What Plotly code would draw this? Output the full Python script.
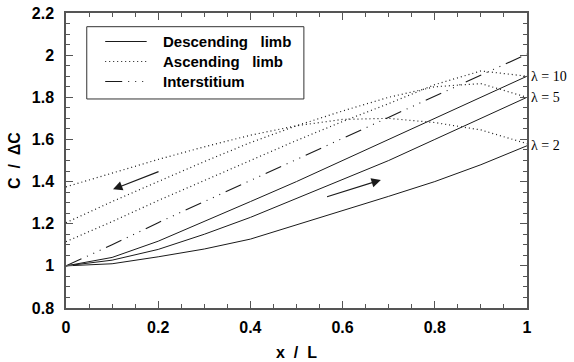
import plotly.graph_objects as go

x_pts = [0, 0.1, 0.2, 0.3, 0.4, 0.5, 0.6, 0.7, 0.8, 0.9, 1.0]

desc_l2 = [1.0, 1.01, 1.043, 1.08, 1.127, 1.195, 1.26, 1.33, 1.40, 1.48, 1.57]
desc_l5 = [1.0, 1.027, 1.078, 1.15, 1.23, 1.32, 1.41, 1.50, 1.60, 1.70, 1.80]
desc_l10 = [1.0, 1.04, 1.117, 1.21, 1.305, 1.40, 1.50, 1.60, 1.70, 1.80, 1.90]

asc_l2 = [1.375, 1.44, 1.505, 1.565, 1.62, 1.665, 1.695, 1.70, 1.68, 1.645, 1.58]
asc_l5 = [1.205, 1.305, 1.40, 1.495, 1.585, 1.665, 1.735, 1.80, 1.85, 1.865, 1.80]
asc_l10 = [1.115, 1.21, 1.31, 1.405, 1.50, 1.595, 1.685, 1.77, 1.86, 1.925, 1.90]

interstitium = [1.0, 1.10, 1.205, 1.305, 1.405, 1.505, 1.605, 1.705, 1.805, 1.905, 2.005]

lambda_labels = ["λ = 10", "λ = 5", "λ = 2"]
lambda_ends = [1.90, 1.80, 1.57]

legend_names = ["Descending   limb", "Ascending   limb", "Interstitium"]

x_ticks = [0, 0.2, 0.4, 0.6, 0.8, 1]
x_ticktext = ["0", "0.2", "0.4", "0.6", "0.8", "1"]
y_ticks = [0.8, 1, 1.2, 1.4, 1.6, 1.8, 2, 2.2]
y_ticktext = ["0.8", "1", "1.2", "1.4", "1.6", "1.8", "2", "2.2"]

LC = "#1a1a1a"
DOT = "1px,3px"
DASHDOT = "17px,6px,1px,6px,1px,6px,1px,6px"
FONT = "Arial, Liberation Sans"

fig = go.Figure()

for ys in [desc_l2, desc_l5, desc_l10]:
    fig.add_trace(go.Scatter(x=x_pts, y=ys, mode="lines",
                             line=dict(color=LC, width=1), showlegend=False))
for ys in [asc_l2, asc_l5, asc_l10]:
    fig.add_trace(go.Scatter(x=x_pts, y=ys, mode="lines",
                             line=dict(color=LC, width=1.2, dash=DOT), showlegend=False))
fig.add_trace(go.Scatter(x=x_pts, y=interstitium, mode="lines",
                         line=dict(color=LC, width=1.1, dash=DASHDOT), showlegend=False))

# legend box (drawn in data coordinates)
leg_x0, leg_x1, leg_y0, leg_y1 = 0.045, 0.516, 1.792, 2.135
fig.add_shape(type="rect", x0=leg_x0, x1=leg_x1, y0=leg_y0, y1=leg_y1,
              line=dict(color="#333", width=1), fillcolor="rgba(0,0,0,0)", layer="above")
leg_rows = [2.065, 1.97, 1.875]
leg_dash = ["solid", DOT, DASHDOT]
for name, ry, dsh in zip(legend_names, leg_rows, leg_dash):
    fig.add_trace(go.Scatter(x=[0.085, 0.175], y=[ry, ry], mode="lines",
                             line=dict(color=LC, width=1.1, dash=dsh), showlegend=False))
    fig.add_annotation(x=0.205, y=ry, xref="x", yref="y",
                       text="<b>" + name.replace(" ", "\u00a0") + "</b>",
                       showarrow=False, xanchor="left", yanchor="middle",
                       font=dict(family=FONT, size=15, color="black"))

# lambda labels
for lab, ye in zip(lambda_labels, lambda_ends):
    fig.add_annotation(x=1.0, y=ye, xref="x", yref="y", text=lab, showarrow=False,
                       xanchor="left", yanchor="middle", xshift=2,
                       font=dict(family="Liberation Serif, Times New Roman", size=14, color="black"))

# arrows
fig.add_annotation(x=0.102, y=1.363, ax=0.204, ay=1.45, xref="x", yref="y", axref="x", ayref="y",
                   showarrow=True, arrowhead=2, arrowsize=1.7, arrowwidth=1.1, arrowcolor=LC, text="")
fig.add_annotation(x=0.683, y=1.408, ax=0.563, ay=1.326, xref="x", yref="y", axref="x", ayref="y",
                   showarrow=True, arrowhead=2, arrowsize=1.7, arrowwidth=1.1, arrowcolor=LC, text="")

tickfont = dict(family=FONT, size=16, color="black")
minor = dict(dtick=0.05, ticks="inside", ticklen=4, tickcolor="#555")
axcommon = dict(showgrid=False, zeroline=False, showline=True, linecolor="#555", linewidth=1.5,
                ticks="inside", ticklen=7, tickwidth=1, tickcolor="#555", automargin=False)
fig.update_layout(
    width=574, height=362,
    margin=dict(l=66, r=47, t=13, b=54),
    paper_bgcolor="white", plot_bgcolor="white",
    showlegend=False,
    xaxis=dict(range=[0, 1], tickvals=x_ticks, ticktext=["<b>%s</b>" % t for t in x_ticktext],
               tickfont=tickfont, minor=minor, ticklabeloverflow="allow", ticklabelstandoff=4,
               title=dict(text="<b>x\u00a0\u00a0/\u00a0\u00a0L</b>",
                          font=dict(family=FONT, size=16, color="black"), standoff=12),
               **axcommon),
    yaxis=dict(range=[0.8, 2.2], tickvals=y_ticks, ticktext=["<b>%s</b>" % t for t in y_ticktext],
               tickfont=tickfont, minor=minor, ticklabeloverflow="allow", ticklabelstandoff=7,
               title=dict(text="<b>C\u00a0\u00a0/\u00a0\u00a0ΔC</b>",
                          font=dict(family=FONT, size=16, color="black"), standoff=7),
               **axcommon),
    xaxis2=dict(range=[0, 1], overlaying="x", side="top", tickvals=x_ticks,
                showticklabels=False, minor=minor, **axcommon),
    yaxis2=dict(range=[0.8, 2.2], overlaying="y", side="right", tickvals=y_ticks,
                showticklabels=False, minor=minor, **axcommon),
)
fig.add_trace(go.Scatter(x=[None], y=[None], xaxis="x2", yaxis="y2", showlegend=False))

fig.write_html("out.html", config={"displayModeBar": False},
               post_script="document.body.style.margin='0';")
